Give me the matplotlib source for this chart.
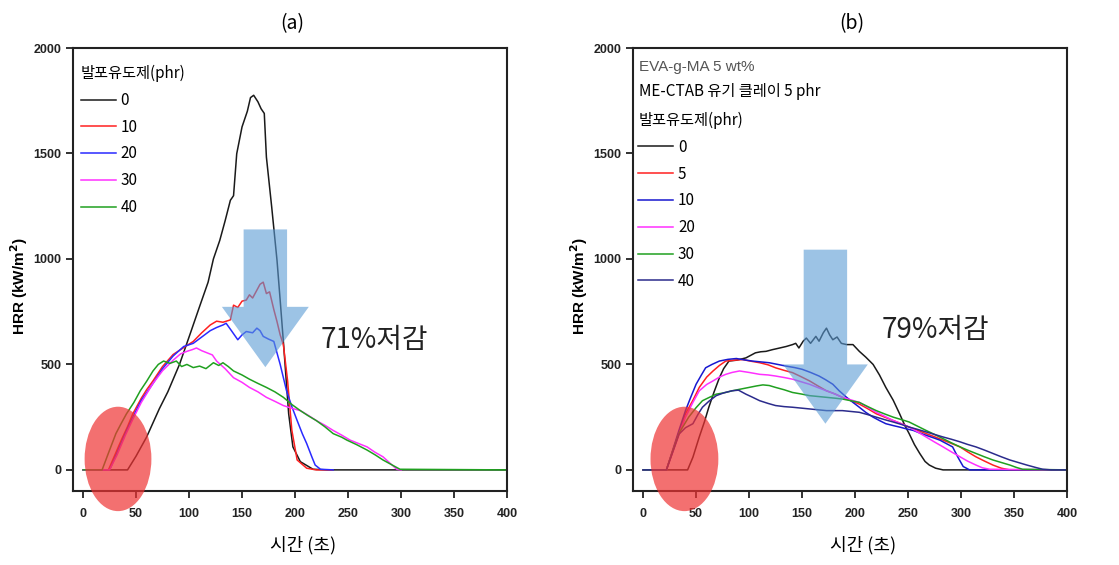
import matplotlib
matplotlib.use("Agg")
import matplotlib.pyplot as plt
from matplotlib.patches import Ellipse, FancyArrow

plt.rcParams['font.family'] = ['Noto Sans CJK KR', 'DejaVu Sans']

# ---------------- data (a) ----------------
a_labels = ['0', '10', '20', '30', '40']
a_colors = ['#1a1a1a', '#ff2020', '#2a2aff', '#ff30ff', '#20a020']

a_t0 = [0, 42, 50, 60, 72, 80, 91, 101, 110, 118, 123, 129, 134, 139, 142, 145, 150, 155, 158, 161, 165, 168, 171, 173, 178, 183, 186, 189, 194, 198, 205, 217, 230, 400]
a_h0 = [0, 0, 65, 156, 290, 370, 500, 644, 775, 890, 1000, 1088, 1180, 1278, 1300, 1499, 1626, 1700, 1765, 1776, 1745, 1712, 1690, 1483, 1246, 994, 804, 609, 266, 109, 39, 3, 0, 0]

a_t10 = [0, 24, 30, 36, 42, 47, 55, 60, 66, 75, 85, 95, 104, 112, 120, 126, 132, 139, 142, 146, 150, 154, 157, 160, 164, 167, 170, 173, 176, 180, 183, 186, 189, 193, 197, 202, 211, 220, 235]
a_h10 = [0, 0, 70, 140, 205, 266, 340, 380, 422, 490, 547, 580, 609, 650, 687, 705, 700, 711, 781, 770, 800, 805, 830, 815, 852, 880, 890, 836, 844, 760, 703, 640, 594, 422, 188, 47, 8, 0, 0]

a_t20 = [0, 25, 32, 40, 47, 55, 66, 75, 85, 95, 104, 112, 120, 126, 132, 135, 140, 146, 150, 154, 160, 164, 167, 170, 175, 180, 186, 192, 197, 202, 207, 211, 216, 219, 224, 236]
a_h20 = [0, 0, 80, 175, 250, 330, 410, 480, 540, 585, 600, 630, 660, 675, 687, 695, 660, 617, 640, 656, 650, 672, 660, 633, 620, 609, 500, 375, 300, 234, 170, 125, 60, 23, 3, 0]

a_t30 = [0, 25, 32, 40, 47, 55, 66, 75, 85, 92, 98, 103, 107, 112, 117, 122, 126, 134, 142, 150, 157, 165, 173, 181, 189, 197, 205, 212, 220, 228, 236, 244, 252, 260, 268, 275, 283, 290, 296, 300]
a_h30 = [0, 0, 70, 165, 240, 320, 410, 470, 520, 550, 562, 570, 578, 565, 555, 545, 516, 480, 437, 415, 391, 370, 344, 325, 305, 292, 281, 260, 234, 212, 187, 165, 141, 125, 109, 85, 62, 30, 3, 0]

a_t40 = [0, 18, 24, 31, 36, 41, 48, 54, 60, 66, 71, 76, 82, 88, 93, 98, 104, 110, 116, 123, 128, 132, 137, 142, 150, 157, 165, 173, 181, 189, 197, 205, 212, 220, 228, 236, 244, 249, 258, 268, 276, 283, 291, 299, 400]
a_h40 = [0, 0, 80, 172, 220, 266, 320, 375, 420, 469, 500, 516, 505, 516, 490, 500, 485, 492, 480, 508, 495, 508, 490, 469, 450, 430, 410, 391, 370, 344, 310, 281, 258, 234, 205, 172, 155, 141, 120, 94, 70, 47, 25, 3, 0]

# ---------------- data (b) ----------------
b_labels = ['0', '5', '10', '20', '30', '40']
b_colors = ['#1a1a1a', '#ff2020', '#1818d0', '#ff30ff', '#20a020', '#2b2b8c']

b_t0 = [0, 42, 47, 53, 58, 62, 67, 72, 76, 81, 88, 97, 106, 111, 116, 122, 129, 135, 141, 144, 147, 151, 154, 158, 163, 166, 170, 173, 176, 179, 183, 187, 192, 198, 204, 210, 217, 223, 229, 236, 242, 247, 251, 256, 261, 266, 270, 276, 283, 400]
b_h0 = [0, 0, 60, 156, 230, 297, 370, 437, 480, 516, 520, 531, 555, 560, 562, 570, 578, 585, 594, 600, 578, 610, 625, 600, 633, 610, 650, 672, 640, 617, 630, 600, 594, 594, 562, 535, 500, 450, 391, 330, 266, 210, 172, 120, 78, 40, 23, 8, 0, 0]

b_t5 = [0, 22, 28, 34, 40, 47, 53, 60, 66, 72, 78, 86, 94, 102, 110, 118, 125, 133, 141, 149, 157, 165, 173, 181, 188, 196, 204, 212, 220, 228, 236, 244, 251, 259, 267, 275, 283, 291, 299, 306, 314, 322, 330, 338, 346, 400]
b_h5 = [0, 0, 90, 180, 266, 330, 391, 440, 469, 495, 516, 520, 523, 515, 508, 498, 484, 472, 461, 442, 422, 398, 375, 360, 344, 328, 312, 290, 266, 250, 234, 218, 203, 188, 172, 157, 141, 125, 109, 86, 62, 42, 23, 8, 0, 0]

b_t10 = [0, 22, 28, 34, 40, 45, 50, 55, 59, 65, 72, 80, 88, 95, 103, 111, 119, 127, 135, 143, 150, 158, 166, 172, 179, 185, 192, 198, 204, 210, 217, 223, 229, 236, 242, 248, 255, 261, 267, 274, 280, 286, 292, 297, 302, 308, 400]
b_h10 = [0, 0, 95, 190, 281, 345, 406, 450, 484, 500, 516, 524, 528, 522, 516, 512, 508, 500, 492, 485, 477, 462, 445, 428, 406, 375, 344, 320, 297, 273, 250, 234, 219, 210, 203, 195, 187, 175, 164, 152, 141, 125, 109, 60, 16, 0, 0]

b_t20 = [0, 22, 28, 34, 40, 47, 53, 60, 66, 72, 78, 84, 91, 100, 110, 118, 125, 133, 141, 149, 157, 165, 173, 181, 188, 196, 204, 212, 220, 228, 236, 244, 251, 259, 267, 275, 283, 291, 299, 306, 314, 320, 327, 400]
b_h20 = [0, 0, 85, 170, 250, 320, 375, 405, 422, 440, 453, 462, 469, 462, 453, 450, 445, 438, 430, 418, 406, 390, 375, 360, 344, 332, 320, 297, 273, 254, 234, 218, 203, 180, 156, 132, 109, 85, 62, 42, 23, 10, 3, 0]

b_t30 = [0, 22, 28, 34, 43, 50, 56, 63, 69, 76, 84, 92, 100, 107, 113, 119, 125, 133, 141, 149, 157, 165, 173, 181, 188, 196, 204, 212, 220, 228, 236, 244, 251, 259, 267, 275, 283, 291, 299, 306, 314, 322, 330, 338, 346, 352, 358, 400]
b_h30 = [0, 0, 90, 175, 250, 295, 328, 345, 359, 365, 375, 383, 391, 398, 403, 400, 391, 380, 367, 360, 352, 348, 344, 340, 336, 328, 320, 300, 281, 265, 250, 238, 227, 207, 187, 168, 148, 128, 109, 94, 78, 62, 47, 35, 23, 12, 3, 0]

b_t40 = [0, 22, 28, 34, 40, 47, 52, 56, 62, 69, 76, 84, 90, 97, 103, 110, 118, 125, 133, 141, 149, 157, 165, 173, 181, 188, 196, 204, 212, 220, 228, 236, 244, 251, 259, 267, 275, 283, 291, 299, 306, 314, 322, 330, 338, 346, 354, 362, 370, 377, 385, 392, 400]
b_h40 = [0, 0, 85, 170, 200, 219, 265, 297, 325, 352, 365, 375, 378, 359, 345, 328, 315, 305, 300, 297, 293, 289, 285, 281, 281, 281, 277, 273, 262, 250, 238, 227, 215, 203, 192, 180, 168, 156, 145, 133, 121, 109, 94, 78, 62, 47, 35, 23, 12, 3, 0, 0, 0]

a_series = [(a_t0, a_h0), (a_t10, a_h10), (a_t20, a_h20), (a_t30, a_h30), (a_t40, a_h40)]
b_series = [(b_t0, b_h0), (b_t5, b_h5), (b_t10, b_h10), (b_t20, b_h20), (b_t30, b_h30), (b_t40, b_h40)]

# annotations: (ellipse cx, cy, w, h), arrow (x, top, tip, shaft w, head w, head len), text
a_ell = (33, 52, 63, 495)
b_ell = (39, 52, 64, 495)
a_arrow = (172, 1140, 487, 41, 82, 286)
b_arrow = (172, 1044, 219, 41, 80, 281)
a_note = (224, 617, '71%저감')
b_note = (225, 664, '79%저감')

xticks = [0, 50, 100, 150, 200, 250, 300, 350, 400]
yticks = [0, 500, 1000, 1500, 2000]

fig = plt.figure(figsize=(11.19, 5.65), dpi=100)
ax_a = fig.add_axes([0.0652, 0.131, 0.3879, 0.784])
ax_b = fig.add_axes([0.5657, 0.131, 0.3879, 0.784])


def setup(ax, title):
    ax.set_xlim(-9.5, 400)
    ax.set_ylim(-100, 2000)
    ax.set_xticks(xticks)
    ax.set_yticks(yticks)
    for s in ax.spines.values():
        s.set_linewidth(1.5)
        s.set_color('#222222')
    ax.tick_params(direction='out', length=5, width=1.3, colors='#222222')
    ax.tick_params(axis='x', pad=7)
    for lab in ax.get_xticklabels() + ax.get_yticklabels():
        lab.set_family(['Liberation Sans', 'DejaVu Sans'])
        lab.set_fontweight('bold')
        lab.set_fontsize(9)
    ax.set_ylabel('HRR (kW/m$^\\mathbf{2}$)', fontsize=11, fontweight='bold',
                  family=['Liberation Sans', 'DejaVu Sans'])
    ax.yaxis.set_label_coords(-0.1, 0.463)
    ax.set_xlabel('시간 (초)', fontsize=13, fontweight='medium')
    ax.xaxis.set_label_coords(0.53, -0.102)
    ax.text(0.505, 1.055, title, transform=ax.transAxes, ha='center', va='center',
            fontsize=14, fontweight='medium')


def decorate(ax, ell, arr, note):
    cx, cy, w, h = ell
    ax.add_patch(Ellipse((cx, cy), w, h, color='#ee3333', alpha=0.7, lw=0, zorder=5, clip_on=False))
    x, top, tip, sw, hw, hl = arr
    ax.add_patch(FancyArrow(x, top, 0, tip - top, width=sw, head_width=hw, head_length=hl,
                            length_includes_head=True, color='#5b9bd5', alpha=0.6, lw=0, zorder=4))
    ax.text(note[0], note[1], note[2], fontsize=20, color='#222222', va='center', ha='left', zorder=6)


def add_legend(ax, left, top):
    leg = ax.legend(loc='upper left', bbox_to_anchor=(left, top), frameon=False,
                    prop={'size': 11, 'weight': 'medium'},
                    title='발포유도제(phr)', title_fontproperties={'size': 11, 'weight': 'medium'},
                    handlelength=2.3, handletextpad=0.3, labelspacing=0.64,
                    borderpad=0, borderaxespad=0)
    leg._legend_box.align = 'left'


setup(ax_a, '(a)')
for (t, h), c, lab in zip(a_series, a_colors, a_labels):
    ax_a.plot(t, h, color=c, lw=1.1, label=lab)
decorate(ax_a, a_ell, a_arrow, a_note)
add_legend(ax_a, 0.018, 0.962)

setup(ax_b, '(b)')
for (t, h), c, lab in zip(b_series, b_colors, b_labels):
    ax_b.plot(t, h, color=c, lw=1.1, label=lab)
decorate(ax_b, b_ell, b_arrow, b_note)
ax_b.text(0.014, 0.957, 'EVA-g-MA 5 wt%', transform=ax_b.transAxes, fontsize=11, color='#555555',
          va='center', family=['Liberation Sans', 'DejaVu Sans'])
ax_b.text(0.014, 0.901, 'ME-CTAB 유기 클레이 5 phr', transform=ax_b.transAxes, fontsize=11,
          fontweight='medium', va='center')
add_legend(ax_b, 0.012, 0.856)

fig.savefig('out.png', dpi=100)
